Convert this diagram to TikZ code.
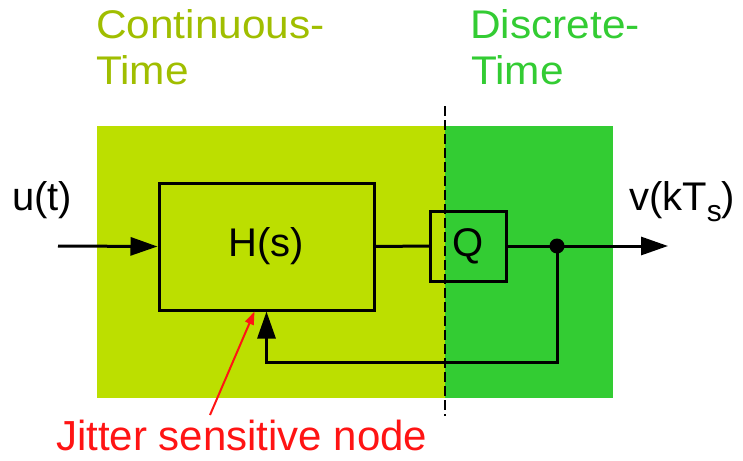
\documentclass[tikz,border=0pt]{standalone}
\usepackage{fontspec}
\setmainfont{Liberation Sans}
\newfontfamily\widesans[FakeStretch=1.06]{Liberation Sans}
\usepackage{tikz}
\usetikzlibrary{arrows.meta, positioning}
\definecolor{ctgreen}{RGB}{188,223,0}
\definecolor{cttext}{RGB}{160,190,0}
\definecolor{dtgreen}{RGB}{51,204,51}
\definecolor{jitred}{RGB}{255,20,20}
\tikzset{
  blk/.style={rectangle, draw=black, line width=3pt, inner sep=0pt,
              font=\fontsize{40}{45}\selectfont},
  arrow/.style={-{Triangle[length=27pt, width=18pt]}, line width=3pt},
  redarrow/.style={-{Triangle[length=13pt, width=9pt]}, line width=2pt, color=jitred},
  lbl/.style={anchor=base west, inner sep=0pt, font=\fontsize{40}{45}\selectfont},
  title/.style={lbl, font=\widesans\fontsize{40}{45}\selectfont},
}
\begin{document}
\begin{tikzpicture}[x=1pt, y=-1pt]
  \useasboundingbox (0,0) rectangle (743,460);
  % domains
  \fill[ctgreen] (97,126) rectangle (445,398);
  \fill[dtgreen] (445,126) rectangle (613,398);
  \draw[line width=2pt, dash pattern=on 10pt off 4pt] (445,106) -- (445,416);
  \node[title, text=cttext] (ct1) at (96,38) {Continuous-};
  \node[title, text=cttext] (ct2) at (96,84) {Time};
  \node[title, text=dtgreen] (dt1) at (470,38) {Discrete-};
  \node[title, text=dtgreen] (dt2) at (471,84) {Time};
  % blocks
  \node[blk, minimum width=215pt, minimum height=127pt] (hs) at (266.5,246.5) {H(s)};
  \node[blk, minimum width=76pt, minimum height=70pt] (qz) at (468.5,246) {Q};
  \node[circle, fill=black, inner sep=0pt, minimum size=15pt] (tap) at (557,246) {};
  \coordinate (uin) at (58,246);
  \coordinate (vout) at (668,246);
  \coordinate (fbc) at (557,362);
  \coordinate (jtail) at (210,415);
  % signals
  \draw[arrow] (uin) -- (hs.west);
  \draw[line width=3pt] (hs.east) -- (qz.west);
  \draw[arrow] (qz.east) -- (vout);
  \draw[arrow] (tap.center) -- (fbc) -| (hs.south);
  \node[lbl] (uu) at (12,210) {u(t)};
  \node[lbl] (vv) at (629,210) {v(kT\raisebox{-11pt}{\fontsize{30}{30}\selectfont s})};
  % jitter note
  \draw[redarrow] (jtail) -- ([xshift=-12pt]hs.south);
  \node[lbl, text=jitred, text depth=0pt, font=\fontsize{42}{46}\selectfont] (jit) at (56,450) {Jitter sensitive node};
\end{tikzpicture}
\end{document}
